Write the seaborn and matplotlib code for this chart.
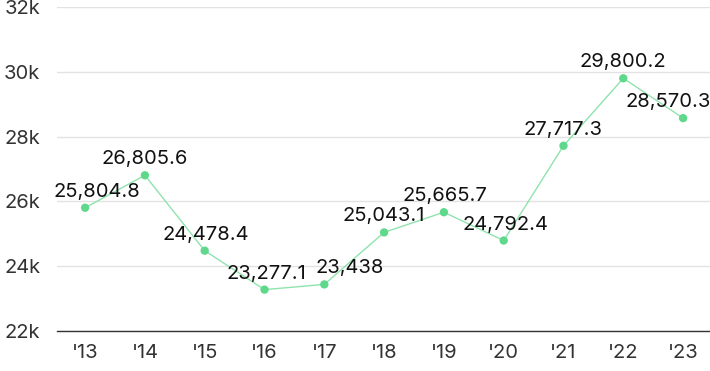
import matplotlib.pyplot as plt
import pandas as pd
import seaborn as sns

# data
years = ["'13", "'14", "'15", "'16", "'17", "'18", "'19", "'20", "'21", "'22", "'23"]
values = [25804.8, 26805.6, 24478.4, 23277.1, 23438, 25043.1, 25665.7, 24792.4, 27717.3, 29800.2, 28570.3]
labels = ['25,804.8', '26,805.6', '24,478.4', '23,277.1', '23,438', '25,043.1',
          '25,665.7', '24,792.4', '27,717.3', '29,800.2', '28,570.3']
y_ticks = [22000, 24000, 26000, 28000, 30000, 32000]
y_ticklabels = ['22k', '24k', '26k', '28k', '30k', '32k']

# label nudges (points) so the texts don't collide
label_dx = [8.5, 0, 1, 1, 18.5, 0, 1, 1, 0, 0, -11]

df = pd.DataFrame({'year': years, 'value': values})
df['pos'] = range(len(df))

sns.set_style('white')
plt.rcParams['font.family'] = ['Inter', 'DejaVu Sans']

fig = plt.figure(figsize=(7.1, 3.71), dpi=100)
ax = fig.add_axes([57 / 710, 1 - 331 / 371, 1 - 57 / 710, 324 / 371])

sns.lineplot(data=df, x='pos', y='value', ax=ax, color='#8fe3ad', linewidth=1, zorder=2)
sns.scatterplot(data=df, x='pos', y='value', ax=ax, color='#5fd88c', s=36,
                edgecolor='none', zorder=3)

for i, row in df.iterrows():
    ax.annotate(labels[i], (row['pos'], row['value']), xytext=(label_dx[i], 5),
                textcoords='offset points', ha='center', va='bottom',
                fontsize=14.5, color='#111111', zorder=4)

ax.set_xlim(-0.47, 10.45)
ax.set_ylim(22000, 32000)
ax.set_xticks(df['pos'])
ax.set_xticklabels(years)
ax.set_yticks(y_ticks)
ax.set_yticklabels(y_ticklabels)
ax.tick_params(axis='both', length=0, labelsize=14.5, labelcolor='#333333')
ax.tick_params(axis='y', pad=12)
ax.tick_params(axis='x', pad=9)
ax.set_xlabel('')
ax.set_ylabel('')

ax.grid(axis='y', color='#e2e2e2', linewidth=1)
ax.set_axisbelow(True)
sns.despine(ax=ax, left=True)
ax.spines['bottom'].set_color('#333333')
ax.spines['bottom'].set_linewidth(1)

fig.savefig('out.png', dpi=100)
